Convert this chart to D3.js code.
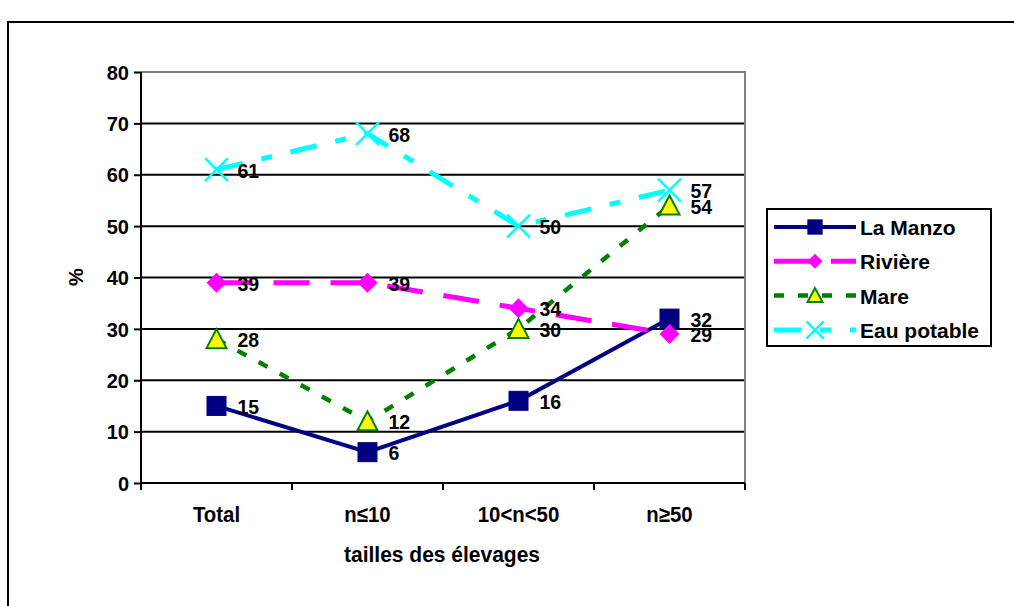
<!DOCTYPE html>
<html><head><meta charset="utf-8">
<script src="https://cdn.jsdelivr.net/npm/d3@7"></script>
<style>body{margin:0;background:#fff}svg{display:block}text{font-family:"Liberation Sans",Arial,sans-serif;font-weight:bold}</style>
</head><body>
<svg id="c" width="1014" height="606"></svg>
<script>
const categories = ["Total", "n≤10", "10<n<50", "n≥50"];
const laManzo = [15, 6, 16, 32];
const riviere = [39, 39, 34, 29];
const mare = [28, 12, 30, 54];
const eauPotable = [61, 68, 50, 57];
const yTicks = [0, 10, 20, 30, 40, 50, 60, 70, 80];
const seriesNames = ["La Manzo", "Rivière", "Mare", "Eau potable"];

const series = [
  {name: seriesNames[0], values: laManzo, color: "#000080", width: 4, dash: null, marker: "square"},
  {name: seriesNames[1], values: riviere, color: "#FF00FF", width: 5, dash: "36,21", marker: "diamond"},
  {name: seriesNames[2], values: mare, color: "#008000", width: 4.5, dash: "10,14", marker: "triangle"},
  {name: seriesNames[3], values: eauPotable, color: "#00FFFF", width: 5, dash: "27,19,11,19", marker: "x"}
];

const svg = d3.select("#c");
const L = 141, R = 745, T = 72, B = 483;
const x = d3.scaleBand().domain(categories).range([L, R]);
const y = d3.scaleLinear().domain([0, 80]).range([B, T]);

// outer frame
svg.append("path").attr("d", "M8,606 L8,22 L1014,22").attr("fill", "none").attr("stroke", "#000").attr("stroke-width", 2);

// gridlines
svg.append("g").selectAll("line").data(yTicks.filter(d => d > 0 && d < 80)).join("line")
  .attr("x1", L).attr("x2", R).attr("y1", d => y(d)).attr("y2", d => y(d))
  .attr("stroke", "#000").attr("stroke-width", 2);
svg.append("path").attr("d", `M${L},${y(80)} L${R},${y(80)} L${R},${B}`).attr("fill", "none").attr("stroke", "#808080").attr("stroke-width", 2);

// y axis
const ya = svg.append("g").attr("transform", `translate(${L},0)`)
  .call(d3.axisLeft(y).tickValues(yTicks).tickSize(7).tickPadding(5));
ya.select(".domain").attr("stroke", "#000").attr("stroke-width", 2).attr("d", `M0,${T}V${B+7}`);
ya.selectAll(".tick line").attr("stroke", "#000").attr("stroke-width", 2);
ya.selectAll(".tick text").attr("font-size", 20).attr("font-weight", "bold").attr("fill", "#000")
  .attr("font-family", '"Liberation Sans",Arial,sans-serif').attr("dy", "0.36em");

// x axis
const xa = svg.append("g").attr("transform", `translate(0,${B})`);
xa.append("line").attr("x1", L).attr("x2", R).attr("y1", 0).attr("y2", 0).attr("stroke", "#000").attr("stroke-width", 2);
const bounds = categories.map(c => x(c)).concat([R]);
xa.selectAll("line.tk").data(bounds).join("line").attr("class", "tk")
  .attr("x1", d => d).attr("x2", d => d).attr("y1", 0).attr("y2", 7).attr("stroke", "#000").attr("stroke-width", 2);
xa.selectAll("text").data(categories).join("text")
  .attr("transform", d => `translate(${x(d) + x.bandwidth() / 2},39) scale(0.97,1.05)`)
  .attr("text-anchor", "middle").attr("font-size", 21).text(d => d);

// axis titles
svg.append("text").attr("transform", "translate(442,562) scale(1,1.05)").attr("text-anchor", "middle").attr("font-size", 21).text("tailles des élevages");
svg.append("text").attr("transform", "translate(83,277) rotate(-90)").attr("text-anchor", "middle").attr("font-size", 20).text("%");

const cx = c => x(c) + x.bandwidth() / 2;

function drawMarker(g, type, px, py, k) {
  if (type === "square") {
    const h = 9.5 * k;
    g.append("rect").attr("x", px - h).attr("y", py - h).attr("width", 2 * h).attr("height", 2 * h).attr("fill", "#000080").attr("stroke", "#000080");
  } else if (type === "diamond") {
    const h = 10 * k;
    g.append("path").attr("d", `M${px},${py-h}L${px+h},${py}L${px},${py+h}L${px-h},${py}Z`).attr("fill", "#FF00FF");
  } else if (type === "triangle") {
    const h = 10 * k;
    g.append("path").attr("d", `M${px},${py-h}L${px+h},${py+h-1}L${px-h},${py+h-1}Z`).attr("fill", "#FFFF00").attr("stroke", "#008000").attr("stroke-width", 2);
  } else if (type === "x") {
    const h = 11.5 * k;
    g.append("path").attr("d", `M${px-h},${py-h}L${px+h},${py+h}M${px-h},${py+h}L${px+h},${py-h}`).attr("stroke", "#00FFFF").attr("stroke-width", 2.5);
  }
}

const line = d3.line().x((d, i) => cx(categories[i])).y(d => y(d));
series.forEach(s => {
  const g = svg.append("g");
  g.append("path").attr("d", line(s.values)).attr("fill", "none").attr("stroke", s.color)
    .attr("stroke-width", s.width).attr("stroke-dasharray", s.dash);
  s.values.forEach((v, i) => drawMarker(g, s.marker, cx(categories[i]), y(v), 1));
});
// labels
series.forEach(s => {
  svg.append("g").selectAll("text").data(s.values).join("text")
    .attr("transform", (d, i) => `translate(${cx(categories[i]) + 21},${y(d) + 8}) scale(0.93,1)`)
    .attr("font-size", 21).text(d => d);
});

// legend
const lg = svg.append("g");
lg.append("rect").attr("x", 767).attr("y", 209).attr("width", 224).attr("height", 137).attr("fill", "#fff").attr("stroke", "#000").attr("stroke-width", 2);
series.forEach((s, i) => {
  const ly = 227 + i * 34.3;
  lg.append("line").attr("x1", 774).attr("x2", 856).attr("y1", ly).attr("y2", ly)
    .attr("stroke", s.color).attr("stroke-width", s.width).attr("stroke-dasharray", s.dash);
  drawMarker(lg, s.marker, 815, ly, 0.75);
  lg.append("text").attr("x", 860).attr("y", ly + 8).attr("font-size", 21).text(s.name);
});
</script>
</body></html>
